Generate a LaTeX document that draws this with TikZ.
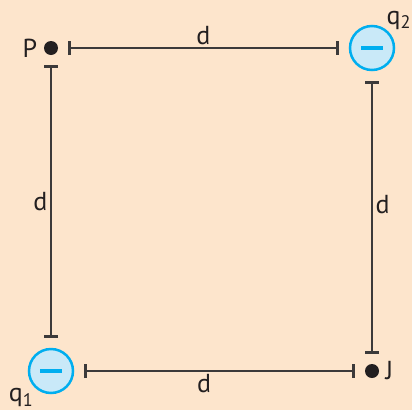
\documentclass[tikz,border=0pt]{standalone}
\usepackage{fontspec}
\setmainfont{PT Sans}
\usetikzlibrary{arrows.meta}
\definecolor{peach}{HTML}{FDE5CC}
\definecolor{chargeblue}{HTML}{00AEEF}
\definecolor{chargefill}{HTML}{C9E9F8}
\definecolor{linegray}{HTML}{3C3A3A}
\definecolor{dotblack}{HTML}{231F20}

\begin{document}
\begin{tikzpicture}[x=1pt, y=-1pt, font=\fontsize{26}{30}\selectfont,
    charge/.style={circle, draw=chargeblue, line width=2.5pt, fill=chargefill, minimum size=44pt, inner sep=0pt},
    point/.style={circle, fill=dotblack, minimum size=14pt, inner sep=0pt},
    dim/.style={line width=1.3pt, draw=linegray, {Bar[width=14pt, line width=2.5pt]}-{Bar[width=14pt, line width=2.5pt]}, shorten <=10pt, shorten >=10pt},
    dlabel/.style={text=dotblack, inner sep=3pt}]
    \useasboundingbox[fill=peach] (0,0) rectangle (412,410);
    % points and charges
    \node[point, label={[text=dotblack, label distance=3pt]left:P}] (P) at (51,48) {};
    \node[point, label={[text=dotblack, label distance=3pt]right:J}] (J) at (372,371) {};
    \node[charge, label={[text=dotblack, inner sep=0pt, xshift=-2pt, yshift=2pt]above right:q\textsubscript{2}}] (q2) at (372,48) {\textcolor{chargeblue}{\rule[-2pt]{22pt}{4pt}}};
    \node[charge, label={[text=dotblack, inner sep=1pt]below left:q\textsubscript{1}}] (q1) at (51,371) {\textcolor{chargeblue}{\rule[-2pt]{22pt}{4pt}}};
    % distances
    \draw[dim] (P) -- (q2) node[midway, above, dlabel] {d};
    \draw[dim] (P) -- (q1) node[midway, left, dlabel] {d};
    \draw[dim] (q2) -- (J) node[pos=0.455, right, dlabel] {d};
    \draw[dim] (q1) -- (J) node[pos=0.447, below, dlabel] {d};
\end{tikzpicture}
\end{document}
